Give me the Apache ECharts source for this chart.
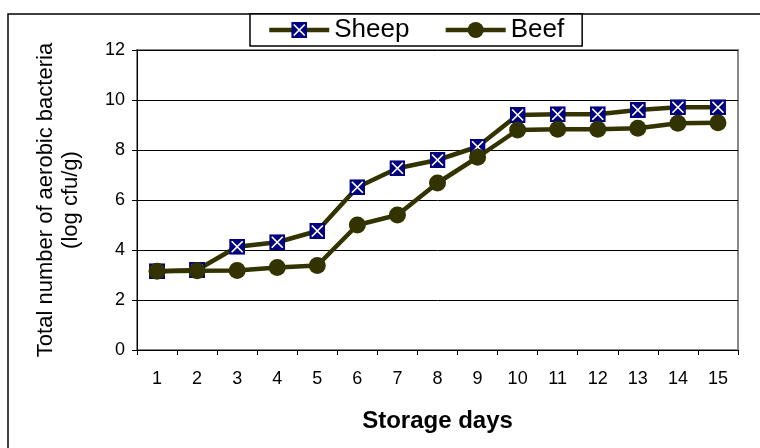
<!DOCTYPE html>
<html>
<head>
<meta charset="utf-8">
<script src="https://cdn.jsdelivr.net/npm/echarts@6/dist/echarts.min.js"></script>
<style>html,body{margin:0;padding:0;background:#fff}#c{width:760px;height:448px}</style>
</head>
<body>
<div id="c"></div>
<script>
const days = ['1','2','3','4','5','6','7','8','9','10','11','12','13','14','15'];
const sheep = [3.15, 3.2, 4.13, 4.31, 4.76, 6.51, 7.27, 7.6, 8.13, 9.4, 9.43, 9.43, 9.6, 9.71, 9.71];
const beef = [3.15, 3.17, 3.18, 3.3, 3.38, 5.0, 5.4, 6.68, 7.71, 8.8, 8.83, 8.83, 8.87, 9.07, 9.09];
const yTicks = [0, 2, 4, 6, 8, 10, 12];

const sheepSvg = "<svg xmlns='http://www.w3.org/2000/svg' width='32' height='32'><rect width='32' height='32' fill='#000080'/><path d='M5 5L27 27M27 5L5 27' stroke='#ffffff' stroke-width='3.5'/></svg>";
const sheepSymbol = 'image://data:image/svg+xml;charset=utf-8,' + encodeURIComponent(sheepSvg);
const lineColor = '#333300';
const font = 'Liberation Sans, Arial, sans-serif';

const chart = echarts.init(document.getElementById('c'), null, {renderer: 'canvas'});
chart.setOption({
  animation: false,
  backgroundColor: '#fff',
  graphic: [{
    type: 'rect', z: -10, silent: true,
    shape: {x: 8, y: 14, width: 800, height: 500},
    style: {fill: 'none', stroke: '#000', lineWidth: 1.5}
  }],
  legend: {
    left: 250, top: 14,
    padding: [3, 18, 3, 17],
    itemGap: 34,
    itemWidth: 60, itemHeight: 20,
    borderColor: '#000', borderWidth: 1.5,
    backgroundColor: '#fff',
    lineStyle: {width: 4.5},
    textStyle: {fontFamily: font, fontSize: 26, color: '#000'},
    data: ['Sheep', 'Beef']
  },
  grid: {left: 137, right: 22, top: 50, bottom: 98, show: true, borderColor: '#888', borderWidth: 2, backgroundColor: 'transparent'},
  xAxis: {
    type: 'category', data: days, boundaryGap: true,
    axisLine: {lineStyle: {color: '#000', width: 1}},
    axisTick: {show: true, length: 5, lineStyle: {color: '#000'}},
    axisLabel: {fontFamily: font, fontSize: 18, color: '#000', margin: 20},
    name: 'Storage days', nameLocation: 'middle', nameGap: 59,
    nameTextStyle: {fontFamily: font, fontSize: 24, fontWeight: 'bold', color: '#000'}
  },
  yAxis: {
    type: 'value', min: 0, max: 12, interval: 2,
    axisLine: {show: true, lineStyle: {color: '#000', width: 1}},
    axisTick: {show: true, length: 5, inside: false, lineStyle: {color: '#000'}},
    axisLabel: {fontFamily: font, fontSize: 18, color: '#000', margin: 12,
      formatter: v => yTicks.indexOf(v) >= 0 ? String(v) : ''},
    splitLine: {show: true, lineStyle: {color: '#000', width: 1}},
    name: 'Total number of aerobic bacteria\n(log cfu/g)', nameLocation: 'middle', nameGap: 54, nameRotate: 90,
    nameTextStyle: {fontFamily: font, fontSize: 22, color: '#000', lineHeight: 25, align: 'center'}
  },
  series: [
    {name: 'Sheep', type: 'line', data: sheep, symbol: sheepSymbol, symbolSize: 16, showAllSymbol: true,
      lineStyle: {color: lineColor, width: 4.5}, itemStyle: {color: lineColor}, z: 2},
    {name: 'Beef', type: 'line', data: beef, symbol: 'circle', symbolSize: 17, showAllSymbol: true,
      lineStyle: {color: lineColor, width: 4.5}, itemStyle: {color: lineColor}, z: 3}
  ]
});
</script>
</body>
</html>
